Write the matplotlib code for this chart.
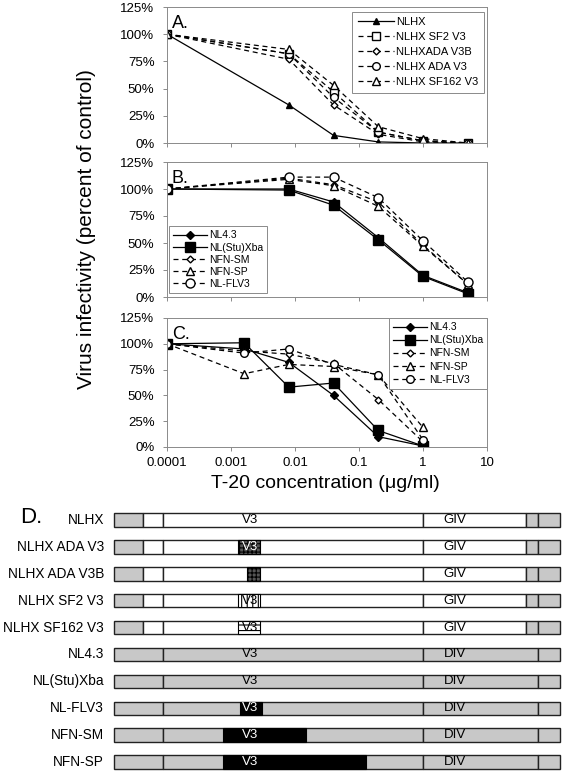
import numpy as np
import matplotlib
matplotlib.use("Agg")
from matplotlib import pyplot as plt
from matplotlib.ticker import FixedLocator, NullLocator

plt.rcParams['font.family'] = ['Liberation Sans', 'DejaVu Sans']
plt.rcParams['hatch.linewidth'] = 0.8

# ---- data: panels A-C (percent of control) ----
conc = [0.0001, 0.008, 0.04, 0.2, 1, 5]
conc_c = [0.0001, 0.0016, 0.008, 0.04, 0.2, 1]

a_names = ["NLHX", "NLHX SF2 V3", "NLHXADA V3B", "NLHX ADA V3", "NLHX SF162 V3"]
a_nlhx = [100, 35, 7, 1, 0, 0]
a_sf2 = [100, 82, 47, 10, 2, 0]
a_adab = [100, 77, 35, 8, 1, 0]
a_ada = [100, 82, 42, 10, 2, 0]
a_sf162 = [100, 86, 53, 15, 4, 0]

bc_names = ["NL4.3", "NL(Stu)Xba", "NFN-SM", "NFN-SP", "NL-FLV3"]
b_nl43 = [100, 100, 88, 55, 20, 4]
b_stu = [100, 99, 85, 53, 19, 3]
b_sm = [100, 110, 104, 88, 48, 12]
b_sp = [100, 109, 103, 84, 47, 12]
b_flv = [100, 111, 111, 92, 52, 14]

c_nl43 = [100, 95, 82, 50, 10, 1]
c_stu = [100, 101, 58, 62, 16, 1]
c_sm = [100, 93, 90, 81, 46, 5]
c_sp = [100, 71, 80, 78, 70, 19]
c_flv = [100, 91, 95, 80, 70, 7]

y_ticks = [0, 25, 50, 75, 100, 125]
x_ticks = [0.0001, 0.001, 0.01, 0.1, 1, 10]
x_ticklabels = ["0.0001", "0.001", "0.01", "0.1", "1", "10"]

# ---- data: panel D (construct map) ----
d_names = ["NLHX", "NLHX ADA V3", "NLHX ADA V3B", "NLHX SF2 V3", "NLHX SF162 V3",
           "NL4.3", "NL(Stu)Xba", "NL-FLV3", "NFN-SM", "NFN-SP"]
d_kind = ["hx"] * 5 + ["nl"] * 5
hx_bounds = [114, 143, 163, 423, 526, 538, 560]
hx_fills = ["#c8c8c8", "white", "white", "white", "#c8c8c8", "#c8c8c8"]
nl_bounds = [114, 163, 423, 538, 560]
nl_fills = ["#c8c8c8", "#c8c8c8", "#c8c8c8", "#c8c8c8"]
ins_start = [None, 238, 247, 238, 238, None, None, 240, 223, 223]
ins_end = [None, 260, 260, 260, 260, None, None, 262, 306, 366]
ins_style = [None, "ada", "ada", "sf2", "sf162", None, None, "black", "black", "black"]
v3_shown = [True, True, False, True, True, True, True, True, True, True]

GRAY = "#8a8a8a"
W, H = 564, 772
fig = plt.figure(figsize=(W / 100, H / 100), dpi=100)


def px_axes(x0, y0, x1, y1):
    return fig.add_axes([x0 / W, 1 - y1 / H, (x1 - x0) / W, (y1 - y0) / H])


def style_axes(ax, letter, show_xlabels):
    ax.set_xscale("log")
    ax.set_xlim(0.0001, 10)
    ax.set_ylim(0, 125)
    ax.xaxis.set_major_locator(FixedLocator(x_ticks))
    ax.xaxis.set_minor_locator(NullLocator())
    if show_xlabels:
        ax.set_xticklabels(x_ticklabels)
    else:
        ax.set_xticklabels([])
    ax.set_yticks(y_ticks)
    ax.set_yticklabels([f"{v}%" for v in y_ticks])
    ax.tick_params(direction="out", length=3, width=0.7, color=GRAY,
                   labelsize=9.5, pad=6)
    ax.tick_params(axis="x", pad=4)
    for s in ax.spines.values():
        s.set_color(GRAY)
        s.set_linewidth(0.7)
    ax.text(0.015, 0.94, letter, transform=ax.transAxes, fontsize=13,
            va="top", ha="left")


dash = dict(ls=(0, (4, 3)), lw=0.9, color="black")
solid = dict(ls="-", lw=0.9, color="black")

# Panel A
axA = px_axes(167, 7, 487, 143)
axA.plot(conc, a_nlhx, marker="^", ms=5, mfc="black", mec="black", label=a_names[0], **solid)
axA.plot(conc, a_sf2, marker="s", ms=5.5, mfc="white", mec="black", label=a_names[1], **dash)
axA.plot(conc, a_adab, marker="D", ms=3.5, mfc="white", mec="black", label=a_names[2], **dash)
axA.plot(conc, a_ada, marker="o", ms=5.5, mfc="white", mec="black", label=a_names[3], **dash)
axA.plot(conc, a_sf162, marker="^", ms=5.5, mfc="white", mec="black", label=a_names[4], **dash)
style_axes(axA, "A.", False)
legA = axA.legend(loc="upper right", bbox_to_anchor=(0.99, 0.965), borderaxespad=0,
                  fontsize=8, labelspacing=0.45, handlelength=3.3, handletextpad=0.15,
                  fancybox=False, framealpha=1, edgecolor=GRAY, borderpad=0.5)
legA.get_frame().set_linewidth(0.7)

# Panel B
axB = px_axes(167, 162, 487, 297)
axB.plot(conc, b_nl43, marker="D", ms=4, mfc="black", mec="black", label=bc_names[0], **solid)
axB.plot(conc, b_stu, marker="s", ms=7, mfc="black", mec="black", label=bc_names[1], **solid)
axB.plot(conc, b_sm, marker="D", ms=3.5, mfc="white", mec="black", label=bc_names[2], **dash)
axB.plot(conc, b_sp, marker="^", ms=5.5, mfc="white", mec="black", label=bc_names[3], **dash)
axB.plot(conc, b_flv, marker="o", ms=6.5, mfc="white", mec="black", label=bc_names[4], **dash)
style_axes(axB, "B.", False)
legB = axB.legend(loc="lower left", bbox_to_anchor=(0.006, 0.03), borderaxespad=0,
                  fontsize=7.5, labelspacing=0.2, handlelength=3.3, handletextpad=0.15,
                  fancybox=False, framealpha=1, edgecolor=GRAY, borderpad=0.4)
legB.get_frame().set_linewidth(0.7)

# Panel C
axC = px_axes(167, 318, 487, 447)
axC.plot(conc_c, c_nl43, marker="D", ms=4, mfc="black", mec="black", label=bc_names[0], **solid)
axC.plot(conc_c, c_stu, marker="s", ms=7, mfc="black", mec="black", label=bc_names[1], **solid)
axC.plot(conc_c, c_sm, marker="D", ms=3.5, mfc="white", mec="black", label=bc_names[2], **dash)
axC.plot(conc_c, c_sp, marker="^", ms=5.5, mfc="white", mec="black", label=bc_names[3], **dash)
axC.plot(conc_c, c_flv, marker="o", ms=5.5, mfc="white", mec="black", label=bc_names[4], **dash)
style_axes(axC, "C.", True)
legC = axC.legend(loc="upper right", bbox_to_anchor=(1.0, 1.0), borderaxespad=0,
                  fontsize=7.5, labelspacing=0.3, handlelength=3.3, handletextpad=0.15,
                  fancybox=False, framealpha=1, edgecolor=GRAY, borderpad=0.4)
legC.get_frame().set_linewidth(0.7)

fig.text(87 / W, 1 - 229 / H, "Virus infectivity (percent of control)",
         rotation=90, fontsize=15, ha="center", va="center")
fig.text(325 / W, 1 - 483 / H, "T-20 concentration (\u03bcg/ml)",
         fontsize=14, ha="center", va="center")

# Panel D
axD = px_axes(0, 495, W, H)
axD.set_xlim(0, W)
axD.set_ylim(9.37, -0.93)
axD.axis("off")
bar_h = 0.5
for i, name in enumerate(d_names):
    if d_kind[i] == "hx":
        bounds, fills, region = hx_bounds, hx_fills, "GIV"
    else:
        bounds, fills, region = nl_bounds, nl_fills, "DIV"
    lefts = bounds[:-1]
    widths = np.diff(bounds)
    axD.barh(i, widths, left=lefts, height=bar_h, color=fills,
             edgecolor="#222222", linewidth=1.0)
    v3_color = "black"
    if ins_style[i] is not None:
        w = ins_end[i] - ins_start[i]
        if ins_style[i] == "black":
            axD.barh(i, w, left=ins_start[i], height=bar_h, color="black",
                     edgecolor="black", linewidth=0.8)
            v3_color = "white"
        elif ins_style[i] == "ada":
            axD.barh(i, w, left=ins_start[i], height=bar_h, color="#555555",
                     edgecolor="black", hatch="++++", linewidth=0.8)
            v3_color = "white"
        elif ins_style[i] == "sf2":
            axD.barh(i, w, left=ins_start[i], height=bar_h, color="white",
                     edgecolor="black", hatch="|||", linewidth=0.8)
        elif ins_style[i] == "sf162":
            axD.barh(i, w, left=ins_start[i], height=bar_h, color="white",
                     edgecolor="black", hatch="---", linewidth=0.8)
    if v3_shown[i]:
        axD.text(250, i, "V3", fontsize=9.5, ha="center", va="center", color=v3_color)
    axD.text(455, i, region, fontsize=9.5, ha="center", va="center")
    axD.text(104, i, name, fontsize=9.8, ha="right", va="center")
axD.text(31, -0.1, "D.", fontsize=16, ha="center", va="center")

fig.savefig("out.png", dpi=100)
